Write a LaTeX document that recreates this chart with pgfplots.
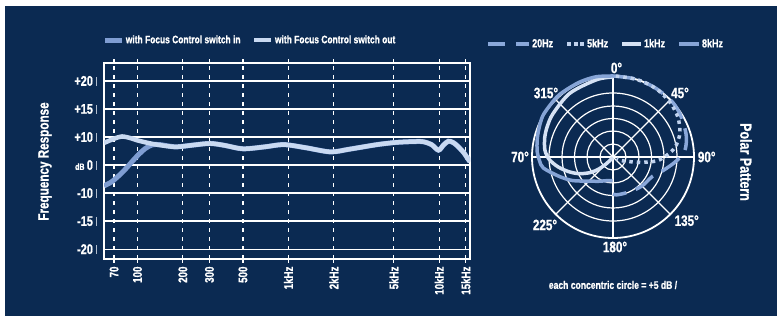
\documentclass[border=0pt]{standalone}
\usepackage{fontspec}
\setmainfont{Liberation Sans}[FakeStretch=0.78, BoldFeatures={FakeBold=0.9}]
\usepackage{pgfplots}
\pgfplotsset{compat=1.18}
\definecolor{navy}{HTML}{0B2A52}
\definecolor{cin}{HTML}{7F9DD2}
\definecolor{cout}{HTML}{C9D9F1}
\definecolor{gridgray}{HTML}{B0BCCC}
\definecolor{c20}{HTML}{8AA8DA}
\definecolor{c5k}{HTML}{C0D2EE}
\definecolor{c1k}{HTML}{D6E2F4}
\definecolor{c8k}{HTML}{86A4D6}
\newcommand{\tb}{\hspace{3.5pt}\textcolor{gridgray}{\rule{0.9pt}{9pt}}}
\begin{document}
\bfseries
\begin{tikzpicture}[x=1pt,y=1pt]
\useasboundingbox (0pt,0pt) rectangle (777pt,316pt);
\fill[white] (0pt,0pt) rectangle (777pt,316pt);
\fill[navy] (5pt,0pt) rectangle (777pt,310pt);
% polar grid
\begin{scope}[shift={(613pt,159pt)}, white, line width=1.2pt]
\foreach \r in {13,26,38.5,51,64} \draw (0pt,0pt) circle[radius=\r pt];
\draw[line width=1.8pt] (0pt,0pt) circle[radius=81pt];
\draw (-81pt,0pt)--(81pt,0pt); \draw (0pt,-81pt)--(0pt,81pt);
\draw (-57.3pt,-57.3pt)--(57.3pt,57.3pt); \draw (-57.3pt,57.3pt)--(57.3pt,-57.3pt);
\end{scope}

\begin{axis}[
 at={(104pt,57pt)}, anchor=south west,
 scale only axis, width=366pt, height=196pt,
 xmode=log, xmin=60, xmax=16000,
 ymin=-33.5, ymax=36.4,
 xtick={70,100,200,300,500,1000,2000,5000,10000,15000},
 xticklabels={70,100,200,300,500,1kHz,2kHz,5kHz,10kHz,15kHz},
 xminorticks=false, yminorticks=false,
 ytick={-30,-20,0,10,20},
 yticklabels={-20\tb,-15\tb,{\fontsize{9}{10}\selectfont dB}\,0\tb,+10\tb,+15\tb},
 extra y ticks={-10,30},
 extra y tick labels={-10\tb,+20\tb},
 extra y tick style={major grid style={draw=gridgray}},
 xmajorgrids, ymajorgrids,
 x grid style={white, dash pattern=on 4pt off 5pt, line width=1.2pt},
 y grid style={white, line width=1.3pt},
 xtick style={white, line width=1.2pt},
 ytick style={draw=none},
 major tick length=4pt, tick align=outside,
 xticklabel style={rotate=90, anchor=east, font=\fontsize{12.5}{13}\selectfont, text=white},
 yticklabel style={anchor=east, font=\fontsize{14}{14}\selectfont, text=white, inner sep=0pt, xshift=-2.5pt},
 axis line style={white, line width=2pt},
 legend columns=-1,
 legend style={at={(-0.005,1.117)}, anchor=west, draw=none, fill=none, text=white,
   font=\fontsize{10.8}{12}\selectfont, inner sep=0pt, nodes={inner sep=1.5pt},
   /tikz/every even column/.append style={column sep=10pt}},
 legend image code/.code={\draw[#1] (0pt,0pt)--(17pt,0pt);},
]
\addplot[cin, line width=5pt, smooth] coordinates {
(60,-7.4) (66,-6.3) (71,-5.0) (78,-3.0) (85,-0.9) (93,1.5) (102,3.8) (112,5.8)
(125,7.2) (140,7.3) (160,6.8) (183,6.5) (240,7.2) (304,7.7) (380,7.0) (500,5.8)
(700,6.5) (931,7.3) (1300,6.2) (1900,4.7) (2500,5.6) (3150,6.5) (4000,7.4)
(5250,8.1) (7000,8.4) (7870,8.3) (8900,7.3) (9890,5.3) (10700,7.2) (11500,8.5)
(12300,8.1) (13100,7.0) (14500,4.5) (15600,2.0) (16000,1.2)};
\addlegendentry{with Focus Control switch in}
\addplot[cout, line width=4.5pt, smooth] coordinates {
(60,7.9) (70,9.4) (79,10.2) (90,9.6) (100,8.8) (122,7.7) (150,6.9) (183,6.5)
(240,7.2) (304,7.7) (380,7.0) (500,5.8) (700,6.5) (931,7.3) (1300,6.2) (1900,4.7)
(2500,5.6) (3150,6.5) (4000,7.4) (5250,8.1) (7000,8.4) (7870,8.3) (8900,7.3)
(9890,5.3) (10700,7.2) (11500,8.5) (12300,8.1) (13100,7.0) (14500,4.5)
(15600,2.0) (16000,1.2)};
\addlegendentry{with Focus Control switch out}
\end{axis}

\begin{axis}[
 at={(613pt,159pt)}, anchor=center,
 scale only axis, width=170pt, height=170pt,
 xmin=-85, xmax=85, ymin=-85, ymax=85,
 hide axis, clip=false,
 legend columns=-1,
 legend style={at={(-0.247,1.165)}, anchor=west, draw=none, fill=none, text=white,
   font=\fontsize{11.5}{12}\selectfont, inner sep=0pt, nodes={inner sep=1pt},
   /tikz/every even column/.append style={column sep=11pt}},
]
\addplot[c20, line width=3.5pt, dash pattern=on 22pt off 10pt, data cs=polar, smooth,
 legend image code/.code={\draw[c20, line width=4pt, dash pattern=on 17pt off 11pt] (0pt,0pt)--(41pt,0pt);}]
 coordinates {(90,81) (75,81) (60,81) (45,81) (35,80) (25,78) (15,76) (5,72) (-4,63)
 (-15,52) (-26,44) (-35,42) (-45,41) (-60,39) (-75,38) (-85,38) (-90,37)};
\addlegendentry{20Hz}
\addplot[c5k, line width=3.5pt, dash pattern=on 3.5pt off 4pt, data cs=polar, smooth,
 legend image code/.code={\draw[c5k, line width=4pt, dash pattern=on 4pt off 2.5pt] (0pt,0pt)--(17pt,0pt);}]
 coordinates {(88,81) (75,81) (65,81) (55,80.5) (44,79) (37,77.5) (31,76) (24,73)
 (18,70) (9,63) (2,54) (-5,44) (-11,28) (-21,11) (-28,4)};
\addlegendentry{5kHz}
\addplot[c1k, line width=3.5pt, data cs=polar, smooth,
 legend image code/.code={\draw[c1k, line width=4pt] (0pt,0pt)--(19pt,0pt);}]
 coordinates {(90,80) (102,79) (124,77) (144,74) (155,72.5) (164,71) (174,68.5)
 (182,64) (190,56) (198,47) (206,38) (214,28) (220,19) (225,10) (230,3) (235,0.5)};
\addlegendentry{1kHz}
\addplot[c8k, line width=3.5pt, data cs=polar, smooth,
 legend image code/.code={\draw[c8k, line width=4pt] (0pt,0pt)--(20pt,0pt);}]
 coordinates {(90,81) (102,82) (114,82) (127,82) (135,82) (148,81.5) (156,80)
 (166,78) (176,76) (183,73.5) (189,70.5) (200,57) (210,47) (222,36) (240,28)
 (255,24.5) (269,23.5)};
\addlegendentry{8kHz}
\end{axis}

\node[text=white, rotate=90, font=\fontsize{15}{16}\selectfont] at (45pt,154.5pt) {Frequency Response};
\node[text=white, rotate=-90, font=\fontsize{16}{17}\selectfont] at (746pt,154pt) {Polar Pattern};
\node[text=white, font=\fontsize{11}{12}\selectfont] at (613pt,31pt) {each concentric circle = +5 dB /};
\begin{scope}[every node/.style={text=white, font=\fontsize{15}{16}\selectfont, inner sep=0pt}]
\node at (616.5pt,248pt) {0°};
\node at (680pt,223pt) {45°};
\node at (706.7pt,159pt) {90°};
\node at (686.7pt,95.3pt) {135°};
\node at (615pt,69pt) {180°};
\node at (545pt,91pt) {225°};
\node at (520pt,159pt) {70°};
\node at (546pt,223pt) {315°};
\end{scope}
\end{tikzpicture}
\end{document}
